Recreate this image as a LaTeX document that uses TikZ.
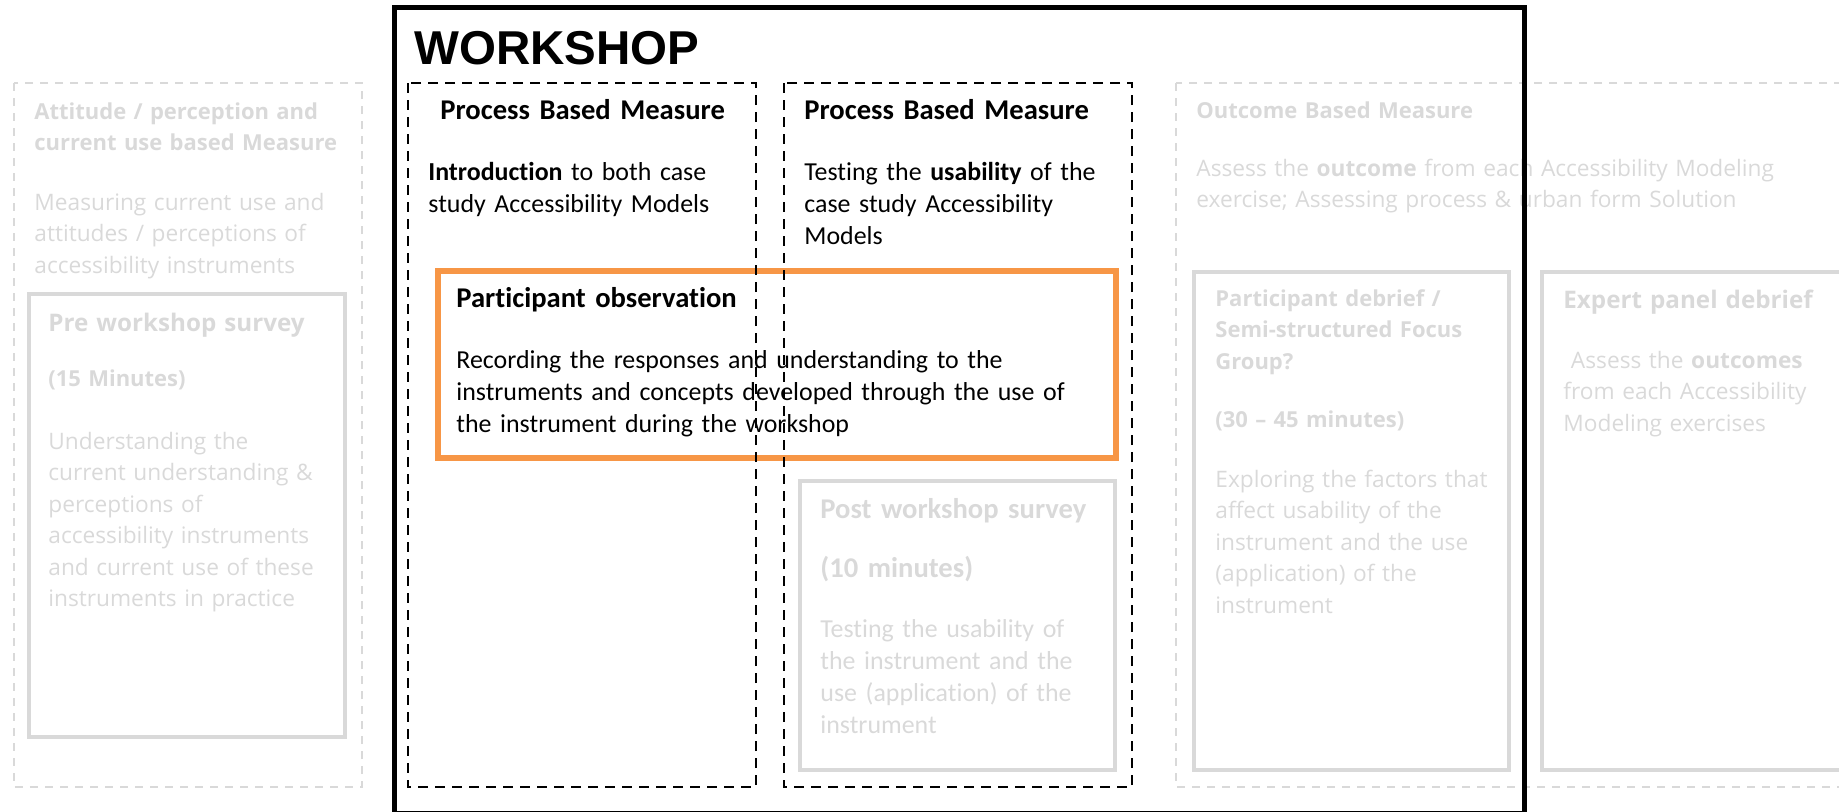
\documentclass[tikz,border=0pt]{standalone}
\usepackage{fontspec}
\setmainfont{Carlito}[Ligatures=CommonOff]
\newfontfamily\opensans{Open Sans}
\newfontfamily\arialfont{Liberation Sans}
\usepackage{xcolor}
\definecolor{PaleGray}{HTML}{D9D9D9}
\definecolor{ObsOrange}{HTML}{F79646}

\newcommand{\bodyfnt}{\fontsize{12.95pt}{16pt}\selectfont}
\newcommand{\headfnt}{\fontsize{14.3pt}{16pt}\selectfont\bfseries}
\newcommand{\grayfnt}{\opensans\fontsize{11.35pt}{15.75pt}\selectfont}
\newcommand{\grayboldfnt}{\opensans\fontsize{11pt}{15.75pt}\selectfont\bfseries}
\newcommand{\grayheadfnt}{\opensans\fontsize{12.1pt}{15.75pt}\selectfont\bfseries}

\begin{document}
\begin{tikzpicture}[x=0.5pt, y=-0.5pt]
	\tikzstyle{txt} = [anchor=base west, inner sep=0pt, text width=400pt, align=left]
	\tikzstyle{fadetxt} = [txt, text=PaleGray]
	\tikzstyle{fadebox} = [draw=PaleGray, line width=2.25pt]
	\tikzstyle{fadedash} = [draw=PaleGray, line width=1.3pt, dash pattern=on 4pt off 3.5pt]
	\tikzstyle{procdash} = [draw=black, line width=1.35pt, dash pattern=on 5pt off 3.5pt]
	\tikzstyle{obsbox} = [draw=ObsOrange, line width=2.85pt]
	\tikzstyle{workbox} = [draw=black, line width=2.5pt]
	
	\useasboundingbox (0,0) rectangle (1839,811);
	
	% attitude / perception (left)
	\draw[fadedash] (14,83) rectangle (362,787);
	\draw[fadebox] (29,294) rectangle (345,737);
	\node[fadetxt, font=\grayboldfnt] (atthead) at (34,119) {Attitude / perception and\\current use based Measure};
	\node[fadetxt, font=\grayfnt] (atttext) at (34,210) {Measuring current use and\\attitudes / perceptions of\\accessibility instruments};
	\node[fadetxt, font=\grayheadfnt] (prehead) at (48,331) {Pre workshop survey};
	\node[fadetxt, font=\grayboldfnt] (pretime) at (48,386) {(15 Minutes)};
	\node[fadetxt, font=\grayfnt] (pretext) at (48,449) {Understanding the\\current understanding \&\\perceptions of\\accessibility instruments\\and current use of these\\instruments in practice};
	
	% outcome (right)
	\draw[fadedash] (1176,83) rectangle (1900,787);
	\draw[fadebox] (1194,272) rectangle (1509,770);
	\draw[fadebox] (1542,272) rectangle (1900,770);
	\node[fadetxt, font=\grayboldfnt] (outhead) at (1196,118) {Outcome Based Measure};
	\node[fadetxt, font=\grayfnt] (outtext) at (1196,176) {Assess the \textbf{outcome} from each Accessibility Modeling\\exercise; Assessing process \& urban form Solution};
	\node[fadetxt, font=\grayboldfnt] (debhead) at (1215,306) {Participant debrief /\\Semi-structured Focus\\Group?};
	\node[fadetxt, font=\grayboldfnt] (debtime) at (1215,427) {(30 – 45 minutes)};
	\node[fadetxt, font=\grayfnt] (debtext) at (1215,487) {Exploring the factors that\\affect usability of the\\instrument and the use\\(application) of the\\instrument};
	\node[fadetxt, font=\grayheadfnt] (exphead) at (1563,308) {Expert panel debrief};
	\node[fadetxt, font=\grayfnt] (exptext) at (1563,368) {\ Assess the \textbf{outcomes}\\from each Accessibility\\Modeling exercises};
	
	% workshop
	\draw[obsbox] (438,271) rectangle (1116,458);
	\node[txt, font=\headfnt] (obshead) at (456,307) {Participant observation};
	\node[txt, font=\bodyfnt] (obstext) at (456,368) {Recording the responses and understanding to the\\instruments and concepts developed through the use of\\the instrument during the workshop};
	
	\draw[fadebox] (800,481) rectangle (1115,770);
	\node[fadetxt, font=\headfnt] (posthead) at (820,518) {Post workshop survey};
	\node[fadetxt, font=\headfnt] (posttime) at (820,577) {(10 minutes)};
	\node[fadetxt, font=\bodyfnt] (posttext) at (820,637) {Testing the usability of\\the instrument and the\\use (application) of the\\instrument};
	
	\draw[procdash] (408,83) rectangle (756,787);
	\draw[procdash] (784,83) rectangle (1132,787);
	\node[txt, font=\headfnt] (pbma) at (440,119) {Process Based Measure};
	\node[txt, font=\bodyfnt] (introtext) at (428,180) {\textbf{Introduction} to both case\\study Accessibility Models};
	\node[txt, font=\headfnt] (pbmb) at (804,119) {Process Based Measure};
	\node[txt, font=\bodyfnt] (usabtext) at (804,180) {Testing the \textbf{usability} of the\\case study Accessibility\\Models};
	
	\draw[workbox] (394,7) rectangle (1524,813);
	\node[txt, font=\arialfont\fontsize{23.75pt}{28pt}\selectfont\bfseries] (worktitle) at (414,64) {WORKSHOP};
\end{tikzpicture}
\end{document}
